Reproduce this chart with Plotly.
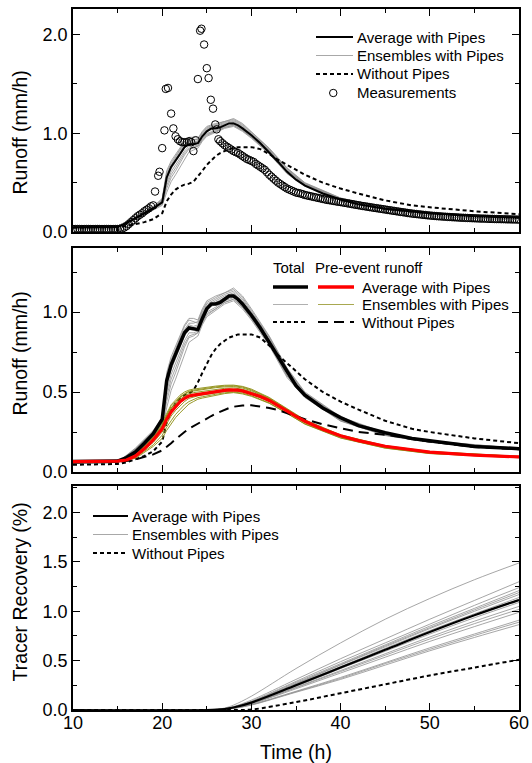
import plotly.graph_objects as go

# ---------------- data ----------------
# runoff time grid (h)
t_q = [10, 15, 16, 17, 18, 19, 20, 20.5, 21, 21.5, 22, 22.5, 23, 23.5, 24, 24.5, 25, 25.5, 26, 26.5,
       27, 27.5, 28, 28.5, 29, 30, 31, 32, 33, 34, 35, 36, 38, 40, 42, 45, 48, 50, 55, 60]

# panel 1 : total runoff, average with pipes
q1_avg = [0.045, 0.05, 0.09, 0.14, 0.19, 0.24, 0.30, 0.55, 0.66, 0.72, 0.79, 0.86, 0.89, 0.89, 0.90, 0.97,
          1.02, 1.05, 1.05, 1.06, 1.08, 1.10, 1.10, 1.08, 1.05, 0.98, 0.90, 0.81, 0.71, 0.61, 0.53, 0.47,
          0.39, 0.33, 0.28, 0.235, 0.205, 0.19, 0.16, 0.145]
# panel 2 : total runoff, average with pipes
q2_avg = [0.065, 0.068, 0.09, 0.125, 0.18, 0.24, 0.33, 0.57, 0.67, 0.74, 0.81, 0.87, 0.90, 0.895, 0.89, 0.96,
          1.02, 1.05, 1.05, 1.06, 1.08, 1.10, 1.10, 1.08, 1.05, 0.98, 0.90, 0.81, 0.72, 0.63, 0.54, 0.48,
          0.40, 0.34, 0.29, 0.245, 0.21, 0.195, 0.16, 0.146]
# total runoff without pipes
q_nopipe = [0.045, 0.05, 0.06, 0.08, 0.10, 0.13, 0.19, 0.31, 0.38, 0.43, 0.46, 0.48, 0.49, 0.51, 0.56, 0.62,
            0.68, 0.73, 0.77, 0.80, 0.82, 0.84, 0.85, 0.86, 0.86, 0.86, 0.84, 0.79, 0.73, 0.68, 0.63, 0.58,
            0.50, 0.44, 0.39, 0.32, 0.27, 0.25, 0.21, 0.18]
# pre-event runoff, average with pipes
pre_avg = [0.065, 0.068, 0.075, 0.10, 0.145, 0.20, 0.27, 0.33, 0.375, 0.41, 0.44, 0.46, 0.475, 0.48, 0.485,
           0.49, 0.495, 0.50, 0.503, 0.507, 0.51, 0.513, 0.515, 0.512, 0.507, 0.492, 0.472, 0.447, 0.413, 0.382,
           0.347, 0.317, 0.267, 0.227, 0.196, 0.161, 0.136, 0.124, 0.106, 0.094]
# pre-event runoff without pipes
pre_nopipe = [0.06, 0.063, 0.068, 0.078, 0.092, 0.11, 0.135, 0.155, 0.18, 0.205, 0.23, 0.25, 0.27, 0.287,
              0.303, 0.318, 0.335, 0.35, 0.365, 0.377, 0.39, 0.40, 0.408, 0.413, 0.416, 0.417, 0.41, 0.40,
              0.387, 0.367, 0.347, 0.33, 0.298, 0.272, 0.25, 0.233, 0.205, 0.19, 0.156, 0.142]

# ensemble time grid (h)
t_ens = [10, 15, 17, 19, 20, 20.5, 21, 21.5, 22, 22.5, 23, 23.5, 24, 24.5, 25, 26, 27, 28, 29, 30,
         32, 34, 36, 40, 45, 50, 60]
ens_total = [
    [0.055, 0.06, 0.15, 0.26, 0.34, 0.62, 0.72, 0.79, 0.86, 0.92, 0.96, 0.96, 0.95, 1.02, 1.07, 1.10, 1.12, 1.15, 1.10, 1.02, 0.85, 0.65, 0.50, 0.345, 0.245, 0.195, 0.148],
    [0.055, 0.06, 0.145, 0.255, 0.33, 0.60, 0.70, 0.77, 0.84, 0.91, 0.95, 0.94, 0.93, 1.00, 1.05, 1.08, 1.11, 1.13, 1.08, 1.00, 0.84, 0.64, 0.49, 0.34, 0.24, 0.192, 0.147],
    [0.055, 0.06, 0.14, 0.25, 0.32, 0.57, 0.67, 0.74, 0.81, 0.88, 0.92, 0.91, 0.92, 0.99, 1.04, 1.07, 1.10, 1.12, 1.07, 0.99, 0.83, 0.63, 0.485, 0.335, 0.238, 0.19, 0.146],
    [0.055, 0.06, 0.135, 0.24, 0.30, 0.50, 0.61, 0.68, 0.75, 0.82, 0.87, 0.87, 0.88, 0.95, 1.00, 1.03, 1.07, 1.09, 1.04, 0.97, 0.81, 0.61, 0.475, 0.325, 0.232, 0.188, 0.144],
    [0.055, 0.06, 0.13, 0.23, 0.28, 0.44, 0.55, 0.62, 0.70, 0.78, 0.84, 0.85, 0.87, 0.94, 0.99, 1.02, 1.06, 1.08, 1.03, 0.96, 0.80, 0.60, 0.47, 0.32, 0.23, 0.186, 0.143],
    [0.055, 0.06, 0.125, 0.22, 0.27, 0.40, 0.51, 0.58, 0.66, 0.74, 0.81, 0.83, 0.85, 0.92, 0.97, 1.01, 1.05, 1.07, 1.02, 0.95, 0.79, 0.59, 0.465, 0.318, 0.228, 0.185, 0.142],
    [0.055, 0.06, 0.14, 0.245, 0.31, 0.53, 0.64, 0.71, 0.78, 0.85, 0.89, 0.89, 0.90, 0.97, 1.02, 1.05, 1.09, 1.11, 1.06, 0.98, 0.82, 0.62, 0.48, 0.33, 0.235, 0.19, 0.145],
    [0.055, 0.06, 0.145, 0.25, 0.325, 0.58, 0.68, 0.76, 0.83, 0.89, 0.93, 0.93, 0.94, 1.01, 1.06, 1.09, 1.12, 1.14, 1.09, 1.01, 0.845, 0.645, 0.495, 0.342, 0.242, 0.193, 0.147],
    [0.055, 0.06, 0.13, 0.235, 0.29, 0.47, 0.58, 0.65, 0.73, 0.80, 0.85, 0.86, 0.87, 0.93, 0.98, 1.02, 1.06, 1.08, 1.03, 0.96, 0.80, 0.60, 0.47, 0.322, 0.23, 0.186, 0.143],
    [0.055, 0.06, 0.14, 0.245, 0.315, 0.55, 0.66, 0.73, 0.80, 0.87, 0.91, 0.90, 0.91, 0.98, 1.03, 1.06, 1.09, 1.11, 1.06, 0.985, 0.825, 0.625, 0.483, 0.333, 0.237, 0.19, 0.145],
]
ens_pre = [
    [0.065, 0.068, 0.115, 0.23, 0.31, 0.37, 0.42, 0.45, 0.48, 0.50, 0.512, 0.518, 0.522, 0.527, 0.532, 0.537, 0.542, 0.543, 0.535, 0.518, 0.466, 0.397, 0.326, 0.232, 0.165, 0.128, 0.098],
    [0.065, 0.068, 0.108, 0.215, 0.29, 0.35, 0.40, 0.43, 0.465, 0.485, 0.50, 0.506, 0.511, 0.516, 0.521, 0.527, 0.532, 0.534, 0.525, 0.508, 0.458, 0.39, 0.319, 0.228, 0.161, 0.125, 0.096],
    [0.065, 0.068, 0.10, 0.20, 0.272, 0.33, 0.378, 0.412, 0.442, 0.462, 0.478, 0.484, 0.488, 0.492, 0.497, 0.505, 0.512, 0.515, 0.507, 0.492, 0.447, 0.382, 0.312, 0.222, 0.156, 0.121, 0.093],
    [0.065, 0.068, 0.09, 0.17, 0.23, 0.28, 0.32, 0.36, 0.39, 0.42, 0.44, 0.455, 0.465, 0.47, 0.476, 0.486, 0.495, 0.50, 0.493, 0.477, 0.432, 0.369, 0.301, 0.214, 0.15, 0.116, 0.09],
    [0.065, 0.068, 0.095, 0.185, 0.25, 0.30, 0.35, 0.385, 0.415, 0.44, 0.46, 0.47, 0.476, 0.481, 0.486, 0.495, 0.503, 0.507, 0.50, 0.486, 0.441, 0.377, 0.308, 0.22, 0.155, 0.12, 0.093],
    [0.065, 0.068, 0.105, 0.21, 0.28, 0.345, 0.395, 0.425, 0.455, 0.475, 0.49, 0.496, 0.50, 0.505, 0.51, 0.517, 0.523, 0.526, 0.517, 0.501, 0.453, 0.386, 0.316, 0.225, 0.159, 0.123, 0.095],
    [0.065, 0.068, 0.085, 0.16, 0.21, 0.26, 0.30, 0.34, 0.37, 0.40, 0.425, 0.44, 0.455, 0.462, 0.468, 0.48, 0.49, 0.496, 0.488, 0.473, 0.429, 0.366, 0.299, 0.212, 0.149, 0.115, 0.089],
    [0.065, 0.068, 0.112, 0.22, 0.30, 0.36, 0.41, 0.44, 0.47, 0.49, 0.505, 0.511, 0.516, 0.521, 0.526, 0.532, 0.537, 0.539, 0.531, 0.513, 0.462, 0.394, 0.323, 0.23, 0.163, 0.127, 0.097],
]

# measurements (panel 1)
meas_t = [10.0, 10.25, 10.5, 10.75, 11.0, 11.25, 11.5, 11.75, 12.0, 12.25, 12.5, 12.75, 13.0, 13.25,
          13.5, 13.75, 14.0, 14.25, 14.5, 14.75, 15.0, 15.25, 15.5,
          15.75, 16.0, 16.25, 16.5, 16.75, 17.0, 17.25, 17.5, 17.75, 18.0, 18.25, 18.5, 18.75, 19.0,
          19.2, 19.55, 19.7, 20.0, 20.25, 20.4, 20.65, 21.0, 21.25, 21.5, 21.75, 22.0, 22.25, 22.5,
          22.75, 23.0, 23.25, 23.5, 23.75, 24.0, 24.25, 24.4, 24.7, 25.0, 25.2, 25.45, 25.7, 25.95,
          26.1, 26.3,
          26.5, 26.75, 27.0, 27.25, 27.5, 27.75, 28.0, 28.25, 28.5, 28.75, 29.0, 29.25, 29.5, 29.75,
          30.0, 30.25, 30.5, 30.75, 31.0, 31.25, 31.5, 31.75, 32.0, 32.25, 32.5, 32.75, 33.0, 33.25,
          33.5, 33.75, 34.0, 34.25, 34.5, 34.75, 35.0, 35.25, 35.5, 35.75, 36.0, 36.25, 36.5, 36.75,
          37.0, 37.25, 37.5, 37.75, 38.0, 38.25, 38.5, 38.75, 39.0, 39.25, 39.5, 39.75, 40.0, 40.25,
          40.5, 40.75, 41.0, 41.25, 41.5, 41.75, 42.0, 42.25, 42.5, 42.75, 43.0, 43.25, 43.5, 43.75,
          44.0, 44.25, 44.5, 44.75, 45.0, 45.25, 45.5, 45.75, 46.0, 46.25, 46.5, 46.75, 47.0, 47.25,
          47.5, 47.75, 48.0, 48.25, 48.5, 48.75, 49.0, 49.25, 49.5, 49.75, 50.0, 50.25, 50.5, 50.75,
          51.0, 51.25, 51.5, 51.75, 52.0, 52.25, 52.5, 52.75, 53.0, 53.25, 53.5, 53.75, 54.0, 54.25,
          54.5, 54.75, 55.0, 55.25, 55.5, 55.75, 56.0, 56.25, 56.5, 56.75, 57.0, 57.25, 57.5, 57.75,
          58.0, 58.25, 58.5, 58.75, 59.0, 59.25, 59.5, 59.75, 60.0]
meas_v = [0.03, 0.03, 0.03, 0.03, 0.03, 0.03, 0.03, 0.03, 0.03, 0.03, 0.03, 0.03, 0.03, 0.03,
          0.03, 0.03, 0.03, 0.03, 0.03, 0.03, 0.03, 0.032, 0.035,
          0.045, 0.06, 0.08, 0.10, 0.12, 0.14, 0.16, 0.175, 0.19, 0.21, 0.225, 0.24, 0.26, 0.27,
          0.41, 0.57, 0.61, 0.85, 1.03, 1.45, 1.46, 1.20, 1.05, 0.97, 0.94, 0.92, 0.91, 0.91,
          0.91, 0.92, 0.91, 0.82, 0.93, 1.55, 2.04, 2.06, 1.90, 1.66, 1.56, 1.34, 1.25, 1.09,
          1.04, 0.94,
          0.92, 0.90, 0.88, 0.865, 0.85, 0.835, 0.82, 0.81, 0.80, 0.785, 0.77, 0.755, 0.74, 0.73,
          0.72, 0.71, 0.69, 0.675, 0.66, 0.645, 0.63, 0.605, 0.58, 0.56, 0.54, 0.52, 0.50, 0.485,
          0.47, 0.455, 0.44, 0.43, 0.42, 0.41, 0.40, 0.395, 0.39, 0.383, 0.375, 0.37, 0.365, 0.36,
          0.355, 0.35, 0.345, 0.34, 0.335, 0.33, 0.325, 0.322, 0.318, 0.314, 0.31, 0.306, 0.303, 0.299,
          0.295, 0.291, 0.287, 0.283, 0.279, 0.275, 0.271, 0.267, 0.263, 0.26, 0.256, 0.252, 0.249, 0.245,
          0.242, 0.238, 0.235, 0.231, 0.228, 0.224, 0.221, 0.217, 0.214, 0.21, 0.207, 0.203, 0.2, 0.197,
          0.193, 0.19, 0.187, 0.184, 0.182, 0.179, 0.177, 0.174, 0.172, 0.169, 0.167, 0.165, 0.163, 0.161,
          0.159, 0.158, 0.156, 0.155, 0.153, 0.152, 0.15, 0.149, 0.148, 0.146, 0.145, 0.144, 0.143, 0.142,
          0.141, 0.14, 0.139, 0.138, 0.137, 0.136, 0.136, 0.135, 0.134, 0.133, 0.133, 0.132, 0.131, 0.131,
          0.13, 0.13, 0.129, 0.128, 0.128, 0.127, 0.127, 0.126, 0.126]

# tracer recovery (panel 3)
t_tr = [10, 25, 27, 28, 30, 35, 40, 45, 50, 55, 60]
tr_avg = [0, 0, 0.01, 0.025, 0.075, 0.25, 0.43, 0.61, 0.79, 0.96, 1.115]
tr_nopipe = [0, 0, 0, 0, 0.005, 0.08, 0.17, 0.26, 0.35, 0.43, 0.51]
tr_ens = [
    [0, 0, 0.02, 0.05, 0.14, 0.42, 0.68, 0.92, 1.13, 1.32, 1.49],
    [0, 0, 0.015, 0.035, 0.10, 0.31, 0.52, 0.72, 0.92, 1.11, 1.30],
    [0, 0, 0.012, 0.03, 0.09, 0.29, 0.49, 0.68, 0.87, 1.06, 1.24],
    [0, 0, 0.012, 0.03, 0.085, 0.28, 0.47, 0.66, 0.85, 1.03, 1.21],
    [0, 0, 0.011, 0.028, 0.082, 0.27, 0.46, 0.65, 0.835, 1.015, 1.19],
    [0, 0, 0.011, 0.027, 0.08, 0.265, 0.455, 0.64, 0.825, 1.0, 1.17],
    [0, 0, 0.01, 0.026, 0.078, 0.26, 0.44, 0.625, 0.805, 0.975, 1.14],
    [0, 0, 0.01, 0.025, 0.076, 0.255, 0.435, 0.615, 0.795, 0.96, 1.12],
    [0, 0, 0.01, 0.024, 0.072, 0.24, 0.42, 0.595, 0.77, 0.935, 1.09],
    [0, 0, 0.009, 0.022, 0.068, 0.23, 0.40, 0.57, 0.74, 0.90, 1.05],
    [0, 0, 0.009, 0.021, 0.065, 0.225, 0.39, 0.555, 0.72, 0.875, 1.02],
    [0, 0, 0.008, 0.02, 0.062, 0.215, 0.375, 0.535, 0.695, 0.845, 0.99],
    [0, 0, 0.007, 0.018, 0.055, 0.19, 0.33, 0.48, 0.63, 0.77, 0.91],
    [0, 0, 0.007, 0.017, 0.053, 0.185, 0.32, 0.47, 0.615, 0.755, 0.89],
    [0, 0, 0.006, 0.016, 0.05, 0.18, 0.31, 0.455, 0.60, 0.735, 0.865],
]

# axis titles
y_titles = ["Runoff (mm/h)", "Runoff (mm/h)", "Tracer Recovery (%)"]
x_title = "Time (h)"

# ---------------- layout helpers ----------------
W, H = 532, 763
ML, MR, MT, MB = 73, 13, 9, 53
PW = W - ML - MR
PH = H - MT - MB
FONT = "Liberation Sans, Arial, sans-serif"
TICK_FS = 18
TITLE_FS = 19.5
LEG_FS = 15


def px(x):
    return (x - ML) / PW


def py(y):
    return 1 - (y - MT) / PH


PANELS = [(9, 232), (248, 472), (486, 710)]
YTITLE_CY = [133, 354, 592]

fig = go.Figure()


def add_line(xs, ys, color, width, ax, dash=None, shape="linear"):
    fig.add_trace(go.Scatter(
        x=xs, y=ys, mode="lines", xaxis="x" + ax, yaxis="y" + ax,
        line=dict(color=color, width=width, dash=dash, shape=shape),
        showlegend=False, hoverinfo="skip"))


DOT = "4px,3px"
DASH = "10px,6px"
GREY = "#8f8f8f"
OLIVE = "#8c8c10"

# panel 1
for m in ens_total:
    add_line(t_ens, m, GREY, 0.8, "")
add_line(t_q, q_nopipe, "black", 2, "", dash=DOT)
add_line(t_q, q1_avg, "black", 2, "")
fig.add_trace(go.Scatter(x=meas_t, y=meas_v, mode="markers", xaxis="x", yaxis="y",
                         marker=dict(symbol="circle-open", size=7.5, color="black", line=dict(width=1)),
                         showlegend=False, hoverinfo="skip"))

# panel 2
for m in ens_total:
    add_line(t_ens, m, GREY, 0.8, "2")
add_line(t_q, q_nopipe, "black", 2, "2", dash=DOT)
for m in ens_pre:
    add_line(t_ens, m, OLIVE, 0.9, "2")
add_line(t_q, pre_nopipe, "black", 2, "2", dash=DASH)
add_line(t_q, q2_avg, "black", 3.5, "2")
add_line(t_q, pre_avg, "#ff0000", 3.2, "2")

# panel 3
for m in tr_ens:
    add_line(t_tr, m, GREY, 0.8, "3", shape="spline")
add_line(t_tr, tr_avg, "black", 2.2, "3", shape="spline")
add_line(t_tr, tr_nopipe, "black", 2, "3", dash=DOT, shape="spline")

xbase = dict(range=[10, 60], tick0=10, dtick=10, ticks="inside", ticklen=7, tickwidth=1.3,
             tickcolor="black", showline=True, linecolor="black", linewidth=1.5, mirror="ticks",
             showgrid=False, zeroline=False,
             minor=dict(tick0=10, dtick=5, ticks="inside", ticklen=4.5, tickwidth=1.2,
                        tickcolor="black", showgrid=False),
             tickfont=dict(size=TICK_FS, family=FONT, color="black"))
ybase = dict(ticks="inside", ticklen=7, tickwidth=1.3, tickcolor="black", showline=True,
             linecolor="black", linewidth=1.5, mirror="ticks", showgrid=False, zeroline=False,
             tickformat=".1f", tickfont=dict(size=TICK_FS, family=FONT, color="black"))
yminor = dict(ticks="inside", ticklen=4.5, tickwidth=1.2, tickcolor="black")

fig.update_layout(
    width=W, height=H, margin=dict(l=ML, r=MR, t=MT, b=MB, autoexpand=False),
    paper_bgcolor="white", plot_bgcolor="white",
    xaxis=dict(xbase, anchor="y", showticklabels=False),
    xaxis2=dict(xbase, anchor="y2", showticklabels=False),
    xaxis3=dict(xbase, anchor="y3", showticklabels=True, ticklabelstandoff=-4,
                title=dict(text=x_title, font=dict(size=TITLE_FS, family=FONT, color="black"), standoff=14)),
    yaxis=dict(ybase, anchor="x", domain=[py(PANELS[0][1]), py(PANELS[0][0])], range=[0, 2.26],
               tick0=0, dtick=1, minor=dict(yminor, dtick=0.5)),
    yaxis2=dict(ybase, anchor="x2", domain=[py(PANELS[1][1]), py(PANELS[1][0])], range=[0, 1.40],
                tick0=0, dtick=0.5, minor=dict(yminor, dtick=0.25)),
    yaxis3=dict(ybase, anchor="x3", domain=[py(PANELS[2][1]), py(PANELS[2][0])], range=[0, 2.27],
                tick0=0, dtick=0.5, minor=dict(yminor, dtick=0.25)),
)

# ---------------- titles and hand-drawn legends ----------------
shapes = []
annots = []

for txt, cy in zip(y_titles, YTITLE_CY):
    annots.append(dict(xref="paper", yref="paper", x=px(19.5), y=py(cy), text=txt, showarrow=False,
                       textangle=-90, xanchor="center", yanchor="middle",
                       font=dict(size=TITLE_FS, family=FONT, color="black")))


def leg_line(x0, x1, y, color, width, dash=None):
    shapes.append(dict(type="line", xref="paper", yref="paper", x0=px(x0), x1=px(x1), y0=py(y), y1=py(y),
                       line=dict(color=color, width=width, dash=dash)))


def leg_text(x, y, text):
    annots.append(dict(xref="paper", yref="paper", x=px(x), y=py(y), text=text, showarrow=False,
                       xanchor="left", yanchor="middle", xshift=-1,
                       font=dict(size=LEG_FS, family=FONT, color="black")))


# panel 1 legend
rows1 = [37, 55.5, 74, 93]
leg_line(316, 353, rows1[0], "black", 2)
leg_line(316, 353, rows1[1], "#a8a8a8", 1.2)
leg_line(316, 353, rows1[2], "black", 2, DOT)
shapes.append(dict(type="circle", xref="paper", yref="paper", x0=px(329.5), x1=px(337.0),
                   y0=py(rows1[3] + 3.7), y1=py(rows1[3] - 3.7), line=dict(color="black", width=1)))
for r, txt in zip(rows1, ["Average with Pipes", "Ensembles with Pipes", "Without Pipes", "Measurements"]):
    leg_text(356, r, txt)

# panel 2 legend
leg_text(272, 267.5, "Total")
leg_text(314, 267.5, "Pre-event runoff")
rows2 = [287, 304.5, 322]
leg_line(273, 308, rows2[0], "black", 3.5)
leg_line(318, 354, rows2[0], "#ff0000", 3.5)
leg_line(273, 308, rows2[1], "#b0b0b0", 1.2)
leg_line(318, 354, rows2[1], "#a8a850", 1.2)
leg_line(273, 308, rows2[2], "black", 2, DOT)
leg_line(318, 354, rows2[2], "black", 2, DASH)
for r, txt in zip(rows2, ["Average with Pipes", "Ensembles with Pipes", "Without Pipes"]):
    leg_text(361, r, txt)

# panel 3 legend
rows3 = [516, 534.5, 553]
leg_line(93, 128, rows3[0], "black", 2)
leg_line(93, 128, rows3[1], "#a8a8a8", 1.2)
leg_line(93, 128, rows3[2], "black", 2, DOT)
for r, txt in zip(rows3, ["Average with Pipes", "Ensembles with Pipes", "Without Pipes"]):
    leg_text(131, r, txt)

fig.update_layout(shapes=shapes, annotations=annots)

fig.write_html("out.html", config={"displayModeBar": False},
               post_script="document.body.style.margin='0';")
